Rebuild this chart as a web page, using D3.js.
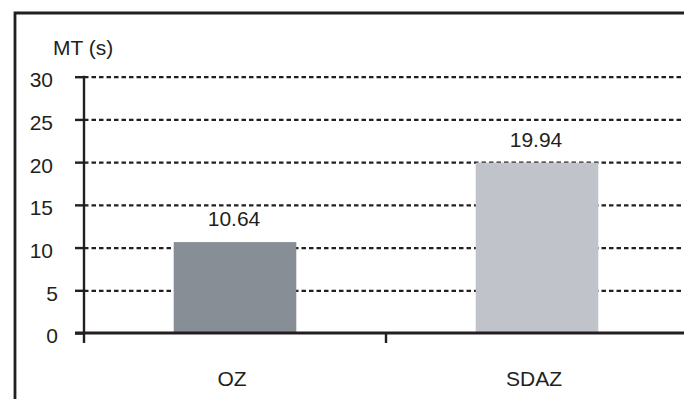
<!DOCTYPE html>
<html><head><meta charset="utf-8">
<script src="https://cdn.jsdelivr.net/npm/d3@7"></script>
<style>
body{margin:0;background:#fff}
svg{display:block}
text{font-family:"Liberation Sans",Arial,sans-serif;fill:#231f20}
</style>
</head><body><svg id="c" width="684" height="399"></svg>
<script>
const categories = ["OZ", "SDAZ"];
const values = [10.64, 19.94];
const valueLabels = ["10.64", "19.94"];
const yTicks = [0, 5, 10, 15, 20, 25, 30];
const yTitle = "MT (s)";
const barColors = ["#878e95", "#c0c3ca"];

const ink = "#231f20";
const svg = d3.select("#c");
const y = d3.scaleLinear().domain([0, 30]).range([333, 76.7]);
const x = d3.scaleBand().domain(categories).range([84, 688])
  .paddingInner(0.594).paddingOuter(0.297);

// frame
svg.append("path").attr("d", "M15,399 V13 H684")
  .attr("fill", "none").attr("stroke", ink).attr("stroke-width", 2.8);

// gridlines
const grid = svg.append("g").attr("transform", "translate(84,0)")
  .call(d3.axisLeft(y).tickValues(yTicks.filter(t => t > 0)).tickSize(-602).tickFormat(""));
grid.select(".domain").remove();
grid.selectAll("line").attr("stroke", ink).attr("stroke-width", 2.2).attr("stroke-dasharray", "4.5,3");

// bars
svg.selectAll("rect.bar").data(categories).join("rect")
  .attr("class", "bar")
  .attr("x", d => x(d))
  .attr("width", x.bandwidth())
  .attr("y", (d, i) => y(values[i]))
  .attr("height", (d, i) => y(0) - y(values[i]))
  .attr("fill", (d, i) => barColors[i]);

// value labels
svg.selectAll("text.val").data(categories).join("text")
  .attr("class", "val")
  .attr("x", d => x(d) + x.bandwidth() / 2 - 1)
  .attr("y", (d, i) => y(values[i]) - 15.8)
  .attr("text-anchor", "middle")
  .attr("font-size", 21)
  .text((d, i) => valueLabels[i]);

// y axis
const yAx = svg.append("g").attr("transform", "translate(84,0)")
  .call(d3.axisLeft(y).tickValues(yTicks).tickSize(9).tickFormat(""));
yAx.select(".domain").remove();
yAx.selectAll("line").attr("stroke", ink).attr("stroke-width", 2.4);
svg.append("line").attr("x1", 84).attr("x2", 84).attr("y1", y(30) - 1).attr("y2", 343)
  .attr("stroke", ink).attr("stroke-width", 2.4);

// y tick labels
svg.selectAll("text.yt").data(yTicks).join("text")
  .attr("class", "yt")
  .attr("x", d => 58 - 5 * (String(d).length - 1))
  .attr("y", d => y(d) + 10.4)
  .attr("text-anchor", "end")
  .attr("font-size", 21)
  .text(d => d);

// x axis
svg.append("line").attr("x1", 75).attr("x2", 684).attr("y1", y(0)).attr("y2", y(0))
  .attr("stroke", ink).attr("stroke-width", 2.8);
const boundaries = categories.slice(1).map(c => x(c) - x.step() * x.paddingInner() / 2);
svg.selectAll("line.xt").data(boundaries).join("line")
  .attr("class", "xt")
  .attr("x1", d => d).attr("x2", d => d)
  .attr("y1", y(0)).attr("y2", 343)
  .attr("stroke", ink).attr("stroke-width", 2.4);

// category labels
svg.selectAll("text.cat").data(categories).join("text")
  .attr("class", "cat")
  .attr("x", d => x(d) + x.bandwidth() / 2 - 3)
  .attr("y", 385.5)
  .attr("text-anchor", "middle")
  .attr("font-size", 21)
  .text(d => d);

// y title
svg.append("text").attr("x", 53).attr("y", 55).attr("font-size", 21).text(yTitle);
</script>
</body></html>
